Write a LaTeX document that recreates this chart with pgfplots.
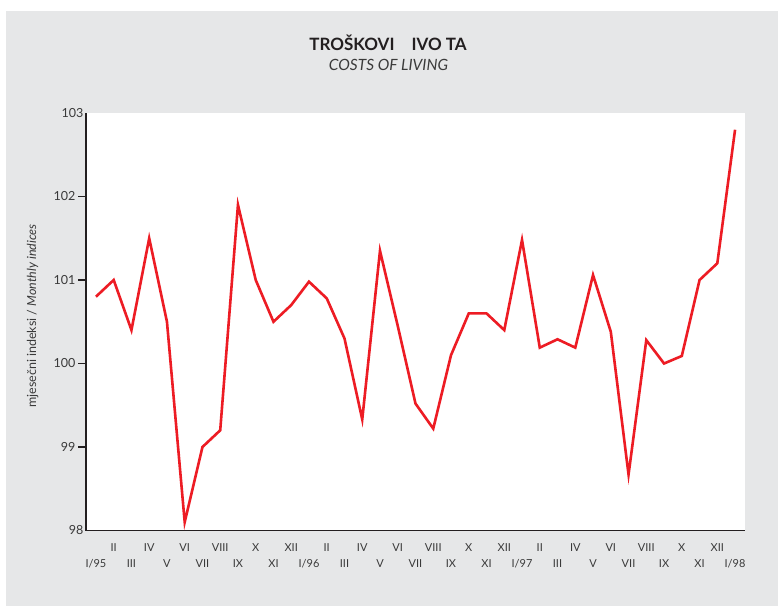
\documentclass[border=0pt]{standalone}
\usepackage{pgfplots}
\pgfplotsset{compat=1.18}
\usepackage{fontspec}
\setmainfont{Lato}
\definecolor{bggray}{HTML}{E6E7E8}
\definecolor{linered}{HTML}{ED1C24}
\definecolor{axisdark}{HTML}{231F20}
\definecolor{labelgray}{HTML}{3A3A3A}
\begin{document}
\begin{tikzpicture}
% page and grey panel
\fill[white] (0,0) rectangle (778bp,606bp);
\fill[bggray] (6bp,0) rectangle (778bp,595bp);

% titles
\node[anchor=base, text=axisdark, font=\fontsize{17bp}{20bp}\selectfont\bfseries]
  at (388bp,555bp) {TROŠKOVI\quad IVO TA};
\node[anchor=base, text=labelgray, font=\fontsize{15.5bp}{18bp}\selectfont\itshape]
  at (388.5bp,535.5bp) {COSTS OF LIVING};

% y label
\node[rotate=90, anchor=base, text=labelgray, font=\fontsize{12.5bp}{15bp}\selectfont]
  at (36bp,290bp) {mjesečni indeksi / \textit{Monthly indices}};

\begin{axis}[
  at={(86bp,75.5bp)}, anchor=south west,
  scale only axis,
  width=659bp, height=417.5bp,
  xmin=-0.56, xmax=36.56,
  ymin=98, ymax=103,
  axis background/.style={fill=white},
  axis x line*=bottom, axis y line*=left,
  axis line style={-, draw=axisdark, line width=1.8bp},
  ytick={99,100,101,102},
  extra y ticks={98,103},
  extra y tick style={major tick length=0pt},
  tick align=outside,
  major tick length=8bp,
  ytick style={draw=axisdark, line width=1.2bp},
  yticklabel style={text=labelgray, font=\fontsize{12.5bp}{15bp}\selectfont, xshift=1bp},
  /pgf/number format/assume math mode=true,
  xtick={0,2,...,36},
  xticklabels={I/95,III,V,VII,IX,XI,I/96,III,V,VII,IX,XI,I/97,III,V,VII,IX,XI,I/98},
  xtick style={draw=none},
  xticklabel style={anchor=base, yshift=-29bp, text=labelgray,
                    font=\fontsize{11bp}{13bp}\selectfont},
  extra x ticks={1,3,...,35},
  extra x tick labels={II,IV,VI,VIII,X,XII,II,IV,VI,VIII,X,XII,II,IV,VI,VIII,X,XII},
  extra x tick style={xtick style={draw=none},
                      xticklabel style={yshift=16bp}},
  grid=none,
]
\addplot[linered, line width=2.6bp, mark=none, line join=miter] coordinates {
  (0,100.80) (1,101.00) (2,100.40) (3,101.50) (4,100.50) (5,98.10)
  (6,99.00) (7,99.20) (8,101.90) (9,101.00) (10,100.50) (11,100.70)
  (12,100.98) (13,100.78) (14,100.30) (15,99.33) (16,101.35) (17,100.45)
  (18,99.52) (19,99.22) (20,100.10) (21,100.60) (22,100.60) (23,100.40)
  (24,101.48) (25,100.19) (26,100.29) (27,100.19) (28,101.06) (29,100.38)
  (30,98.67) (31,100.28) (32,100.00) (33,100.09) (34,101.00) (35,101.20)
  (36,102.80)
};
\end{axis}
\end{tikzpicture}
\end{document}
